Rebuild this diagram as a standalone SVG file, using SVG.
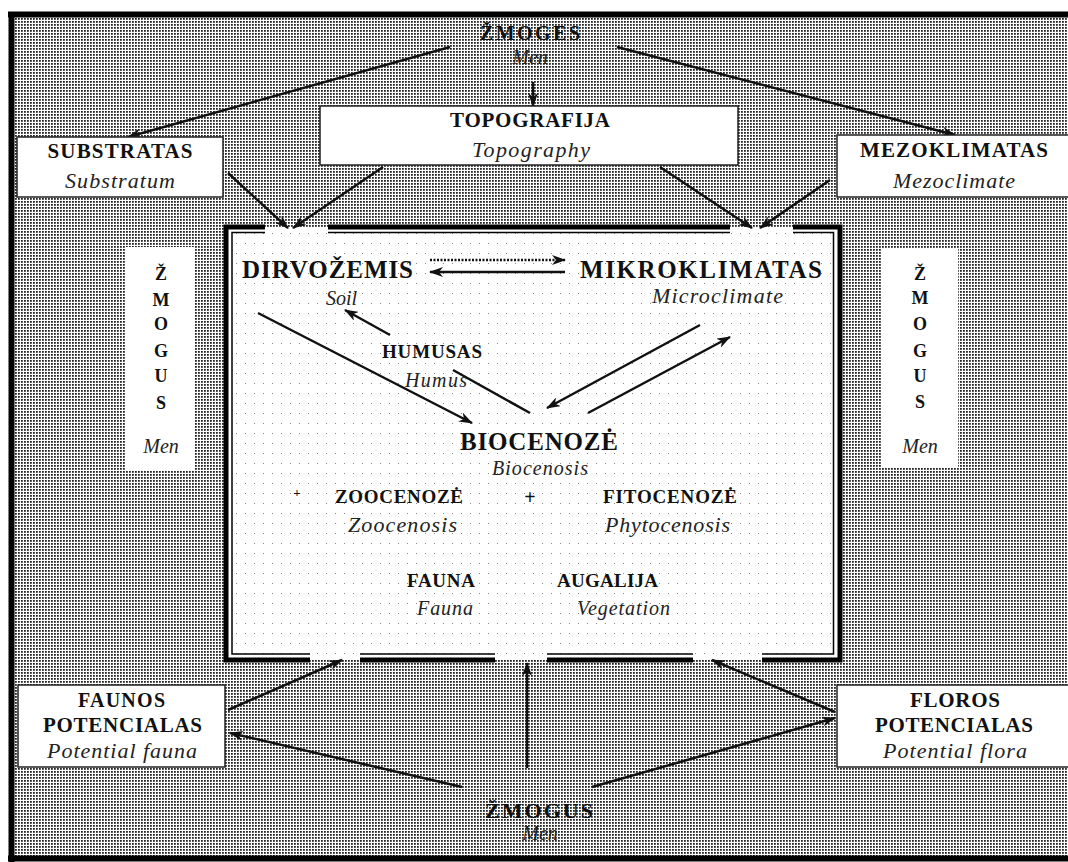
<svg xmlns="http://www.w3.org/2000/svg" width="1068" height="862" viewBox="0 0 1068 862">
<style>
.b{font-family:"Liberation Serif","Times New Roman",serif;font-weight:bold;fill:#111;text-anchor:middle}
.i{font-family:"Liberation Serif","Times New Roman",serif;font-style:italic;fill:#222;text-anchor:middle}
.box{fill:#fff;stroke:#222;stroke-width:1.5}
.wbox{fill:#fff;stroke:none}
.ln{stroke:#111;stroke-width:2.5;fill:none}
.arr{stroke:#111;stroke-width:2.5;fill:none;marker-end:url(#ah)}
.dot{stroke:#111;stroke-width:2.5;fill:none;stroke-dasharray:2 1.5;marker-end:url(#ah)}
.thick{stroke:#000;stroke-width:5;fill:none}
.thin{stroke:#000;stroke-width:1.5;fill:none}
</style>
<defs>
<pattern id="bg" width="3" height="3" patternUnits="userSpaceOnUse">
<rect width="3" height="3" fill="#fff"/>
<rect width="1.8" height="1.8" fill="#222"/>
</pattern>
<pattern id="lt" width="9" height="10" patternUnits="userSpaceOnUse">
<rect width="9" height="10" fill="#fff"/>
<rect x="2" y="3" width="1" height="1" fill="#888"/>
</pattern>
<marker id="ah" viewBox="0 0 14 10" refX="13" refY="5" markerWidth="14" markerHeight="10" markerUnits="userSpaceOnUse" orient="auto">
<path d="M0,0 L14,5 L0,10 L4,5 z" fill="#111"/>
</marker>
</defs>
<rect width="1068" height="862" fill="#fff"/>
<rect x="11" y="14" width="1057" height="845" fill="url(#bg)"/>
<path d="M8,14.5 H1068 M11.5,14 V862 M8,858.5 H1068" stroke="#000" stroke-width="6" fill="none"/>

<g id="inner-box">
<rect x="226" y="227" width="614" height="433" fill="url(#lt)"/>
<path class="thick" d="M265,227 H226 V660 H310 M360,660 H495 M547,660 H693 M762,660 H840 V227 H793 M730,227 H328"/>
<path class="thin" d="M265,232.5 H232 V654 H310 M360,654 H495 M547,654 H693 M762,654 H833.5 V232.5 H793 M730,232.5 H328"/>
</g>

<g id="connectors">
<line class="arr" x1="450" y1="47" x2="128" y2="137"/>
<line class="arr" x1="617" y1="47" x2="955" y2="135"/>
<line class="arr" x1="533" y1="82" x2="533" y2="106"/>
<line class="arr" x1="228" y1="173" x2="288" y2="228"/>
<line class="arr" x1="383" y1="167" x2="293" y2="228"/>
<line class="arr" x1="660" y1="167" x2="752" y2="228"/>
<line class="arr" x1="830" y1="180" x2="760" y2="228"/>
<line class="dot" x1="430" y1="260" x2="565" y2="260"/>
<line class="arr" x1="565" y1="272" x2="430" y2="272"/>
<line class="arr" x1="390" y1="335" x2="345" y2="310"/>
<line class="arr" x1="258" y1="313" x2="472" y2="423"/>
<line class="ln" x1="453" y1="370" x2="530" y2="413"/>
<line class="arr" x1="700" y1="325" x2="547" y2="408"/>
<line class="arr" x1="588" y1="413" x2="730" y2="337"/>
<line class="arr" x1="228" y1="710" x2="342" y2="660"/>
<line class="arr" x1="462" y1="787" x2="230" y2="733"/>
<line class="arr" x1="527" y1="768" x2="527" y2="663"/>
<line class="arr" x1="592" y1="787" x2="835" y2="718"/>
<line class="arr" x1="835" y1="712" x2="712" y2="660"/>
</g>

<g id="zmoges-top">
<text class="b" x="530" y="40" font-size="20" textLength="100" lengthAdjust="spacing">ŽMOGES</text>
<text class="i" x="530" y="64" font-size="20">Men</text>
</g>

<g id="topografija">
<rect class="box" x="320" y="106" width="418" height="59"/>
<text class="b" x="530" y="127" font-size="21" textLength="160" lengthAdjust="spacing">TOPOGRAFIJA</text>
<text class="i" x="531" y="157" font-size="22" textLength="118" lengthAdjust="spacing">Topography</text>
</g>

<g id="substratas">
<rect class="box" x="17" y="137" width="206" height="60"/>
<text class="b" x="120" y="158" font-size="21" textLength="145" lengthAdjust="spacing">SUBSTRATAS</text>
<text class="i" x="120" y="188" font-size="22" textLength="110" lengthAdjust="spacing">Substratum</text>
</g>

<g id="mezoklimatas">
<rect class="box" x="837" y="135" width="240" height="62"/>
<text class="b" x="954" y="157" font-size="21" textLength="188" lengthAdjust="spacing">MEZOKLIMATAS</text>
<text class="i" x="954" y="188" font-size="22" textLength="122" lengthAdjust="spacing">Mezoclimate</text>
</g>

<g id="zmogus-left">
<rect class="wbox" x="126" y="247" width="69" height="223"/>
<text class="b" x="161" y="280" font-size="18">Ž</text>
<text class="b" x="161" y="306" font-size="18">M</text>
<text class="b" x="161" y="330" font-size="18">O</text>
<text class="b" x="161" y="357" font-size="18">G</text>
<text class="b" x="161" y="382" font-size="18">U</text>
<text class="b" x="161" y="409" font-size="18">S</text>
<text class="i" x="161" y="453" font-size="20">Men</text>
</g>

<g id="zmogus-right">
<rect class="wbox" x="882" y="248" width="76" height="220"/>
<text class="b" x="920" y="280" font-size="18">Ž</text>
<text class="b" x="920" y="304" font-size="18">M</text>
<text class="b" x="920" y="330" font-size="18">O</text>
<text class="b" x="920" y="357" font-size="18">G</text>
<text class="b" x="920" y="382" font-size="18">U</text>
<text class="b" x="920" y="408" font-size="18">S</text>
<text class="i" x="920" y="453" font-size="20">Men</text>
</g>

<g id="dirvozemis">
<text class="b" x="327.5" y="278" font-size="25" textLength="171" lengthAdjust="spacing">DIRVOŽEMIS</text>
<text class="i" x="341.5" y="305" font-size="20">Soil</text>
</g>

<g id="mikroklimatas">
<text class="b" x="701" y="278" font-size="25" textLength="242" lengthAdjust="spacing">MIKROKLIMATAS</text>
<text class="i" x="717.5" y="303" font-size="22" textLength="131" lengthAdjust="spacing">Microclimate</text>
</g>

<g id="humusas">
<text class="b" x="432" y="358" font-size="19" textLength="100" lengthAdjust="spacing">HUMUSAS</text>
<text class="i" x="436" y="387" font-size="20" textLength="62" lengthAdjust="spacing">Humus</text>
</g>

<g id="biocenoze">
<text class="b" x="539" y="450" font-size="25" textLength="158" lengthAdjust="spacing">BIOCENOZĖ</text>
<text class="i" x="540" y="475" font-size="20" textLength="96" lengthAdjust="spacing">Biocenosis</text>
</g>

<g id="zoocenoze">
<text class="b" x="297" y="497" font-size="13">+</text>
<text class="b" x="399" y="503" font-size="19" textLength="128" lengthAdjust="spacing">ZOOCENOZĖ</text>
<text class="i" x="402.5" y="532" font-size="22" textLength="109" lengthAdjust="spacing">Zoocenosis</text>
</g>

<g id="plus">
<text class="b" x="530" y="504" font-size="20">+</text>
</g>

<g id="fitocenoze">
<text class="b" x="670" y="503" font-size="19" textLength="134" lengthAdjust="spacing">FITOCENOZĖ</text>
<text class="i" x="667.5" y="532" font-size="22" textLength="125" lengthAdjust="spacing">Phytocenosis</text>
</g>

<g id="fauna">
<text class="b" x="441" y="587" font-size="19" textLength="68" lengthAdjust="spacing">FAUNA</text>
<text class="i" x="445" y="615" font-size="20" textLength="56" lengthAdjust="spacing">Fauna</text>
</g>

<g id="augalija">
<text class="b" x="607.5" y="587" font-size="19" textLength="101" lengthAdjust="spacing">AUGALIJA</text>
<text class="i" x="623.5" y="615" font-size="20" textLength="93" lengthAdjust="spacing">Vegetation</text>
</g>

<g id="faunos-potencialas">
<rect class="box" x="18" y="685" width="207" height="82"/>
<text class="b" x="121.5" y="707" font-size="20" textLength="87" lengthAdjust="spacing">FAUNOS</text>
<text class="b" x="122.5" y="732" font-size="21" textLength="159" lengthAdjust="spacing">POTENCIALAS</text>
<text class="i" x="122" y="758" font-size="22" textLength="150" lengthAdjust="spacing">Potential fauna</text>
</g>

<g id="floros-potencialas">
<rect class="box" x="837" y="685" width="240" height="82"/>
<text class="b" x="955" y="707" font-size="21" textLength="90" lengthAdjust="spacing">FLOROS</text>
<text class="b" x="954" y="732" font-size="21" textLength="158" lengthAdjust="spacing">POTENCIALAS</text>
<text class="i" x="955" y="758" font-size="22" textLength="144" lengthAdjust="spacing">Potential flora</text>
</g>

<g id="zmogus-bottom">
<text class="b" x="539" y="818" font-size="22" textLength="108" lengthAdjust="spacing">ŽMOGUS</text>
<text class="i" x="540" y="840" font-size="20">Men</text>
</g>
</svg>
